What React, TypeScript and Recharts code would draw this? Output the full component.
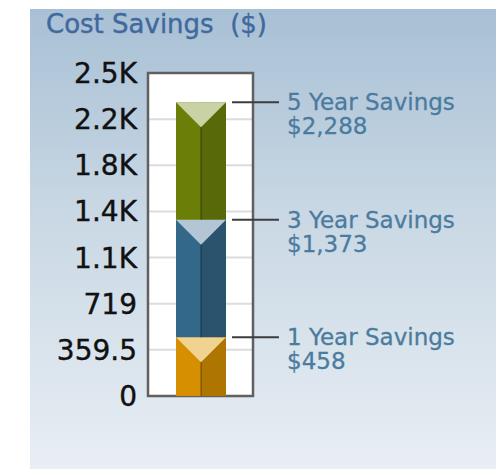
import React from "react";
import { BarChart, Bar, XAxis, YAxis, CartesianGrid, ReferenceArea } from "recharts";

const categories = ["Savings"];
const periodLabels = ["1 Year Savings", "3 Year Savings", "5 Year Savings"];
const savings = [458, 1373, 2288];
const tickValues = [0, 359.5, 719, 1078.5, 1438, 1797.5, 2157, 2516.5];
const tickLabels = ["0", "359.5", "719", "1.1K", "1.4K", "1.8K", "2.2K", "2.5K"];

const palette = [
  { front: "#d68f00", side: "#ae7600", top: "#f1d391" },
  { front: "#34688a", side: "#2a536e", top: "#b3c6d5" },
  { front: "#6b7e08", side: "#58690a", top: "#c9d2a4" },
];

const FONT = "'DejaVu Sans', Verdana, sans-serif";

// stacked deltas so each segment tops out at its cumulative saving
const data = categories.map((name) => {
  const row: Record<string, number | string> = { name };
  savings.forEach((v, i) => {
    row["s" + i] = v - (i > 0 ? savings[i - 1] : 0);
  });
  return row;
});

function Prism(props: any) {
  const { x, y, width, height, idx } = props;
  const c = palette[idx];
  const half = width / 2;
  const cap = 25;
  return (
    <g>
      <rect x={x} y={y} width={half} height={height} fill={c.front} />
      <rect x={x + half} y={y} width={half} height={height} fill={c.side} />
      <line
        x1={x + half}
        x2={x + half}
        y1={y}
        y2={y + height}
        stroke="rgba(0,0,0,0.3)"
        strokeWidth={1.5}
      />
      <polygon points={`${x},${y} ${x + width},${y} ${x + half},${y + cap}`} fill={c.top} />
    </g>
  );
}

function Note(props: any) {
  const { x, y, width, idx } = props;
  const x0 = x + width + 6;
  const txt = { fill: "#4b7b9e", stroke: "#4b7b9e", strokeWidth: 0.3, fontSize: 23, fontFamily: FONT };
  return (
    <g>
      <line x1={x0} x2={x0 + 47} y1={y} y2={y} stroke="#3c3c3c" strokeWidth={2} />
      <text x={x0 + 55} y={y + 8} {...txt}>
        {periodLabels[idx]}
      </text>
      <text x={x0 + 55} y={y + 32} {...txt}>
        {"$" + savings[idx].toLocaleString("en-US")}
      </text>
    </g>
  );
}

export default function App() {
  return (
    <div style={{ position: "absolute", left: 0, top: 0, width: 496, height: 469, background: "#fff" }}>
      <div
        style={{
          position: "absolute",
          left: 30,
          top: 9,
          width: 466,
          height: 460,
          background: "linear-gradient(180deg, #a8c0d5 0%, #c9d8e4 45%, #e8eef4 100%)",
        }}
      />
      <div
        style={{
          position: "absolute",
          left: 46,
          top: 9,
          fontFamily: FONT,
          fontSize: 26,
          color: "#41699e",
          whiteSpace: "pre",
          WebkitTextStroke: "0.4px #41699e",
        }}
      >
        {"Cost Savings  ($)"}
      </div>
      <div style={{ position: "absolute", left: 0, top: 0 }}>
        <BarChart width={496} height={469} data={data} margin={{ top: 73, right: 243, bottom: 73, left: 0 }}>
          <CartesianGrid vertical={false} stroke="#dcdcdc" strokeWidth={2} fill="#ffffff" fillOpacity={1} />
          <XAxis dataKey="name" hide />
          <YAxis
            type="number"
            width={148}
            domain={[0, 2516.5]}
            ticks={tickValues}
            interval={0}
            axisLine={false}
            tickLine={false}
            tickSize={0}
            tickMargin={11}
            tickFormatter={(v: number) => tickLabels[tickValues.indexOf(v)] ?? String(v)}
            tick={{ fill: "#111", stroke: "#111", strokeWidth: 0.4, fontSize: 28, fontFamily: FONT }}
          />
          {savings.map((_, i) => (
            <Bar
              key={i}
              dataKey={"s" + i}
              stackId="a"
              barSize={50}
              isAnimationActive={false}
              shape={(p: any) => <Prism {...p} idx={i} />}
              label={(p: any) => <Note {...p} idx={i} />}
            />
          ))}
          <ReferenceArea y1={0} y2={2516.5} fill="none" stroke="#606060" strokeWidth={2.5} />
        </BarChart>
      </div>
    </div>
  );
}
